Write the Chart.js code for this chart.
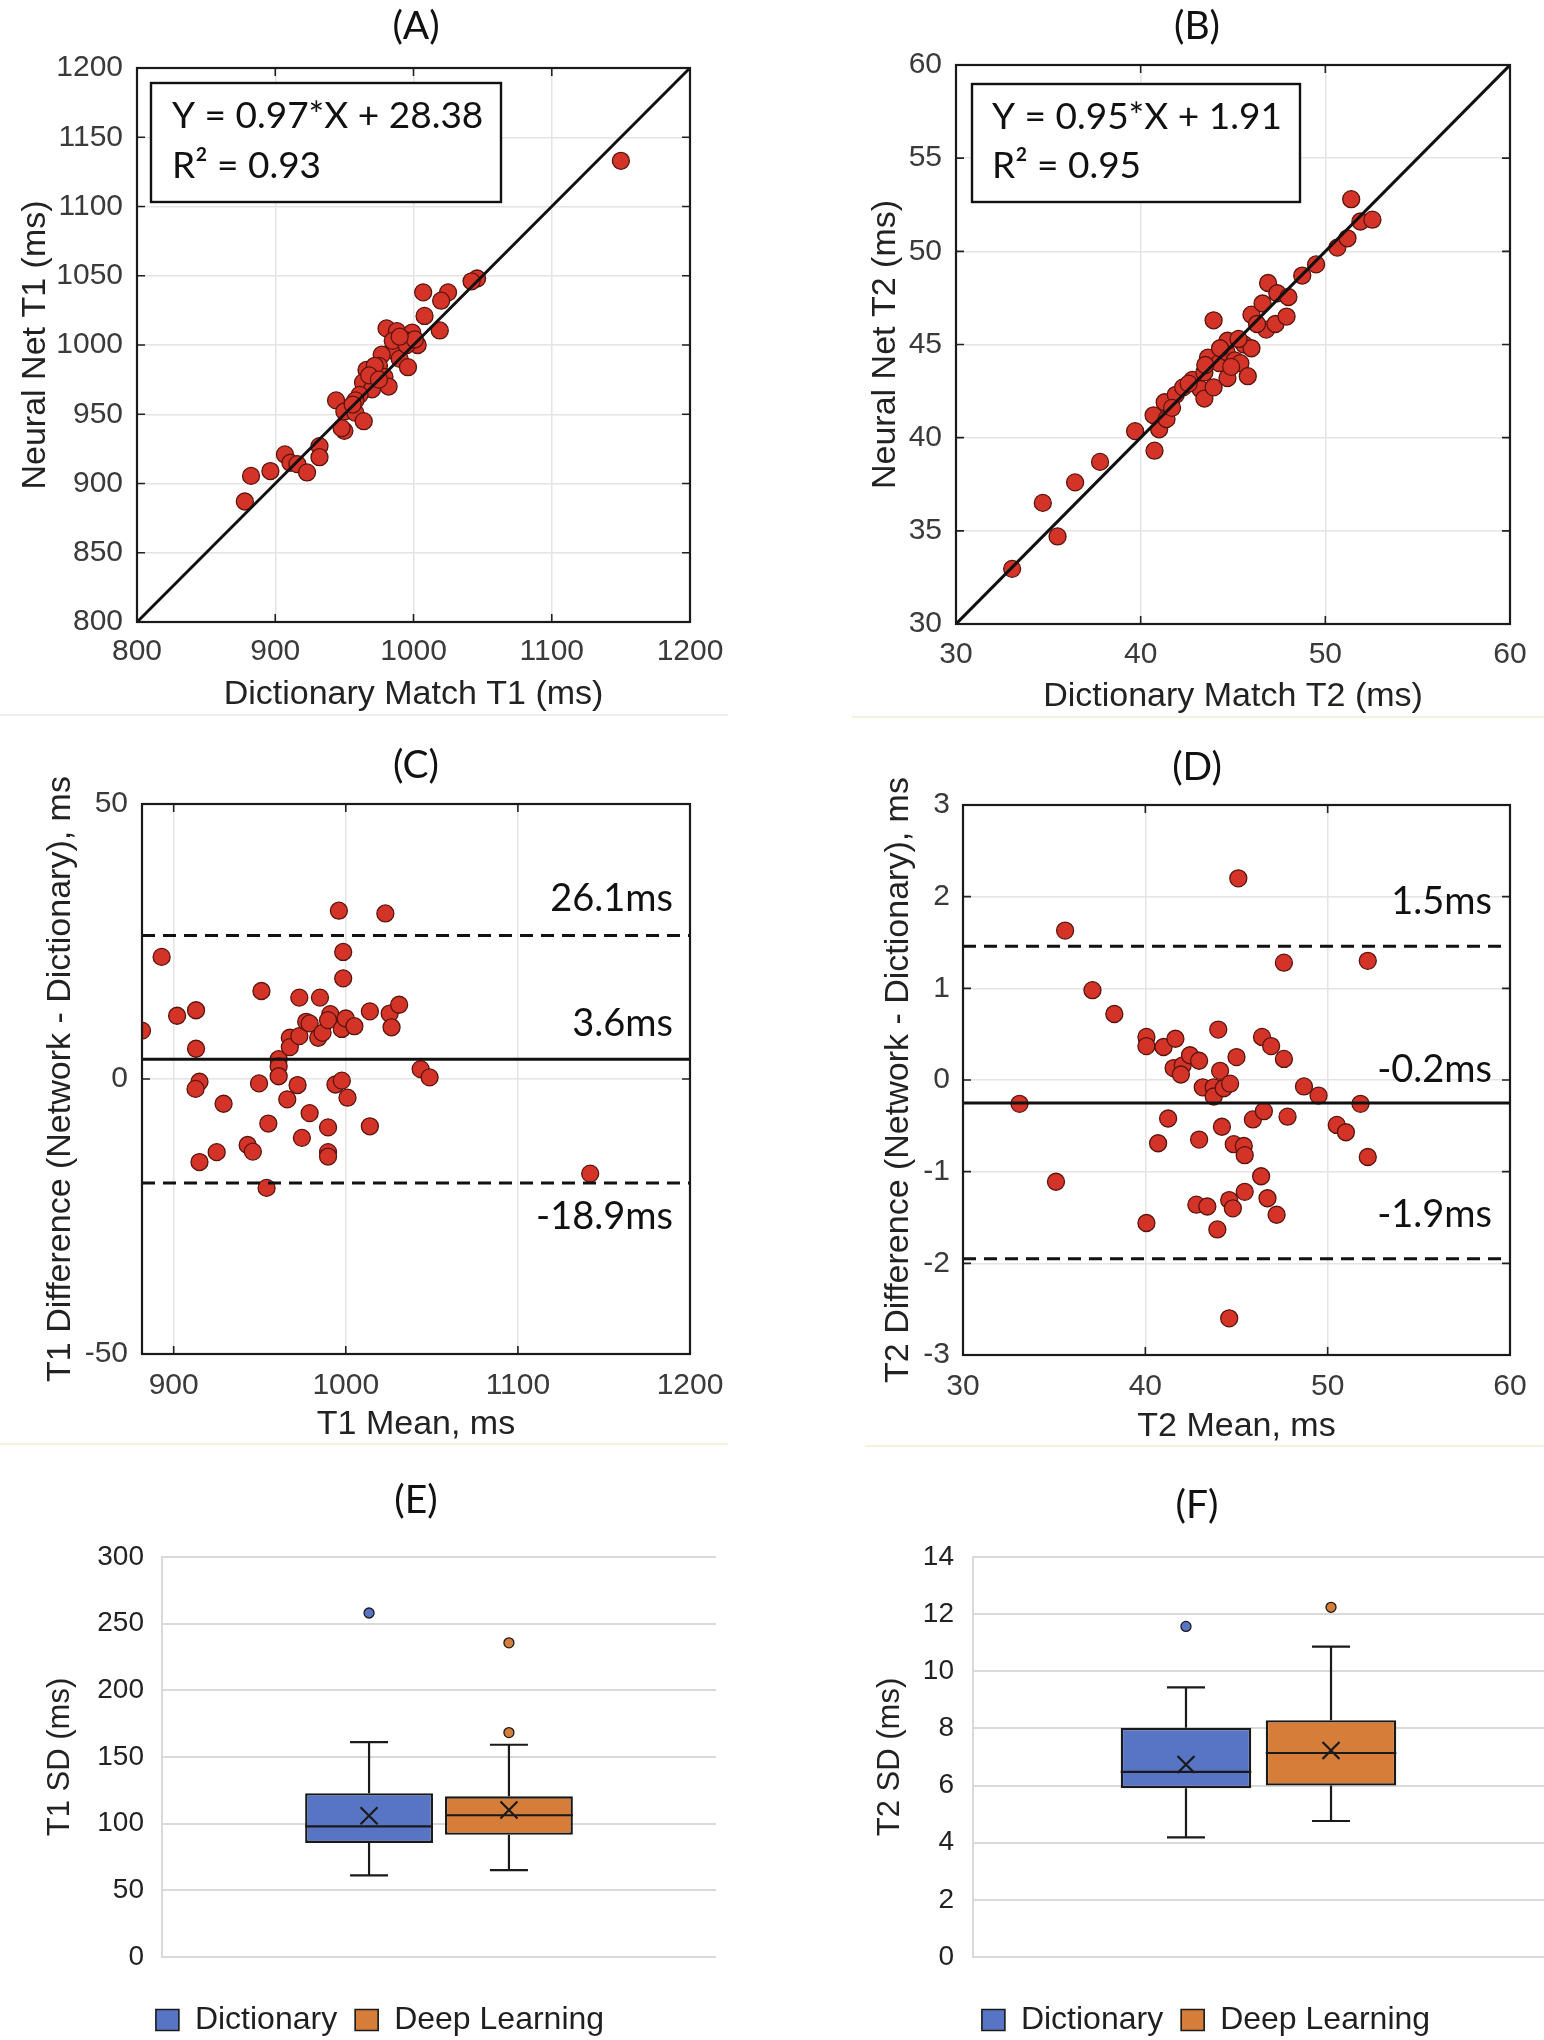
<!DOCTYPE html>
<html>
<head>
<meta charset="utf-8">
<script src="https://cdn.jsdelivr.net/npm/chart.js@4.4.1/dist/chart.umd.min.js"></script>
<style>
html,body{margin:0;padding:0;background:#fff;width:1544px;height:2040px;overflow:hidden;}
#page{position:relative;width:1544px;height:2040px;overflow:hidden;}
.pnl{position:absolute;}
.sep{position:absolute;height:2px;}
</style>
</head>
<body>
<div id="page">
  <div class="pnl" style="left:0;top:0;"><canvas id="A" width="772" height="740"></canvas></div>
  <div class="pnl" style="left:772px;top:0;"><canvas id="B" width="772" height="740"></canvas></div>
  <div class="pnl" style="left:0;top:740px;"><canvas id="C" width="772" height="730"></canvas></div>
  <div class="pnl" style="left:772px;top:740px;"><canvas id="D" width="772" height="730"></canvas></div>
  <div class="pnl" style="left:0;top:1470px;"><canvas id="E" width="760" height="576"></canvas></div>
  <div class="pnl" style="left:868px;top:1470px;"><canvas id="F" width="676" height="576"></canvas></div>
  <div class="sep" style="left:0;top:714px;width:728px;background:#efefef;"></div>
  <div class="sep" style="left:852px;top:716px;width:692px;background:#f5f1dc;"></div>
  <div class="sep" style="left:0;top:1443px;width:728px;background:#f5f1dc;"></div>
  <div class="sep" style="left:865px;top:1445px;width:679px;background:#f5f1dc;"></div>
</div>
<script>
// ---------------- DATA ----------------
// (A) T1: dictionary match vs neural net
const A_dictT1 = [1150,1046,1042,1007,1025,1020,1008,1019,980.5,988,999,994,1003,984.5,977,990,996,975,966,979,982,963.5,970,961,958,944,950,958,964,950,948,932,932,907,911,916,923,896.5,882.5,878,985,995,972,968,1001,990,956,975];
const A_netT1  = [1133,1048,1046,1038,1038,1032,1021,1010.5,1012,1010,1009,1003.5,1000,996,993,990,984,985,982,977,970,973,968,964,960,960,952,951,945,938,940,927,919,921,915,914,908,909,905.5,887,1003,1000,985,978,1004,1006,957,975];
const A_identity = [800, 1200];
const A_xTicks = [800, 900, 1000, 1100, 1200];
const A_yTicks = [800, 850, 900, 950, 1000, 1050, 1100, 1150, 1200];
const A_fitText = ['Y = 0.97*X + 28.38', 'R\u00B2 = 0.93'];

// (B) T2: dictionary match vs neural net
const B_dictT2 = [33.04,35.5,34.7,36.45,37.8,39.7,40.75,40.7,41.0,41.4,41.3,41.9,42.3,42.8,43.25,43.45,43.95,43.65,43.45,44.25,44.7,44.65,44.7,45.1,45.6,46.0,45.4,45.8,43.95,46.0,46.6,46.8,47.3,47.9,46.9,47.4,48.0,48.75,49.5,50.65,51.2,51.4,51.9,52.55,44.3,45.3,42.6,46.3,43.5,41.7,44.9];
const B_netT2  = [32.96,34.7,36.5,37.6,38.7,40.35,39.3,41.2,40.45,41.0,41.9,42.3,42.7,43.1,42.6,42.1,42.7,44.3,43.5,44.0,43.2,44.6,45.2,44.15,45.0,44.8,44.0,43.3,46.3,46.6,47.2,45.8,46.1,46.5,48.3,47.75,47.55,48.7,49.3,50.2,50.7,52.8,51.6,51.7,44.8,45.3,42.9,46.1,43.9,41.6,43.8];
const B_identity = [30, 60];
const B_xTicks = [30, 40, 50, 60];
const B_yTicks = [30, 35, 40, 45, 50, 55, 60];
const B_fitText = ['Y = 0.95*X + 1.91', 'R\u00B2 = 0.95'];

// (C) T1 Bland-Altman
const C_meanT1 = [881.6,893,902,913,913,915,912.7,929,915,925,943,946,949.6,951,955,954,961,961,961,966,967.5,967.5,973,973,972,974.5,977,979,979,985,984,986.5,989.7,989.7,989.7,991,989.7,996,998.5,998.5,997.7,1000,1005,994,997.7,1001,1014,1014,1023,1025.5,1026.6,1031,1043.5,1048.7,1142];
const C_diffT1 = [8.8,22.2,11.5,12.5,5.5,-0.5,-1.8,-4.5,-15.1,-13.3,-12.0,-13.2,-0.8,16.0,-8.1,-19.8,3.6,2.3,0.5,-3.7,7.5,5.8,7.8,14.8,-1.1,-10.7,10.4,10.1,-6.2,14.8,7.5,8.4,-8.8,-13.3,-14.1,11.8,10.7,30.6,23.1,18.3,9.1,11.0,9.6,-1.0,-0.3,-3.4,12.3,-8.6,30.1,11.9,9.4,13.5,1.8,0.3,-17.2];
const C_limits = [26.1, 3.6, -18.9];
const C_limitText = ['26.1ms', '3.6ms', '-18.9ms'];
const C_xRange = [881.6, 1200];
const C_xTicks = [900, 1000, 1100, 1200];
const C_yTicks = [-50, 0, 50];

// (D) T2 Bland-Altman
const D_meanT2 = [33.1,35.1,35.6,37.1,38.3,40.06,40.06,40.06,40.7,41.0,41.25,41.65,41.55,42.05,41.95,42.45,42.95,42.95,42.8,43.4,43.15,43.75,43.75,44.0,44.1,44.2,43.95,44.3,44.65,44.6,44.8,44.6,44.85,45.0,45.1,45.4,45.45,45.45,45.9,46.35,46.4,46.5,46.7,46.9,47.2,47.6,47.6,47.8,48.7,49.5,50.5,51.0,51.8,52.2,52.2];
const D_diffT2 = [-0.26,-1.11,1.63,0.98,0.72,0.47,0.37,-1.56,-0.69,0.36,-0.42,0.45,0.13,0.16,0.06,0.27,0.21,-0.65,-1.36,-1.38,-0.08,-0.08,-0.18,0.55,0.10,-0.51,-1.63,-0.09,-0.04,-1.31,-1.40,-2.60,-0.70,0.25,2.20,-0.72,-0.82,-1.22,-0.43,-1.05,0.47,-0.34,-1.29,0.37,-1.47,1.28,0.23,-0.40,-0.07,-0.17,-0.49,-0.57,-0.26,1.30,-0.84];
const D_limits = [1.46, -0.25, -1.95];
const D_limitText = ['1.5ms', '-0.2ms', '-1.9ms'];
const D_xRange = [30, 60];
const D_xTicks = [30, 40, 50, 60];
const D_yTicks = [-3, -2, -1, 0, 1, 2, 3];

// (E)/(F) box plots of SD
const boxGroups = ['Dictionary', 'Deep Learning'];
const E_min    = [61.2, 65.2];
const E_q1     = [85.5, 91.6];
const E_median = [98.0, 106.3];
const E_q3     = [122.9, 120.5];
const E_max    = [161.1, 159.2];
const E_mean   = [106.0, 110.3];
const E_outliers = [[258], [235.6, 168.3]];
const E_yTicks = [0, 50, 100, 150, 200, 250, 300];

const F_min    = [4.19, 4.76];
const F_q1     = [5.91, 6.00];
const F_median = [6.48, 7.14];
const F_q3     = [8.02, 8.29];
const F_max    = [9.44, 10.86];
const F_mean   = [6.74, 7.23];
const F_outliers = [[11.57], [12.24]];
const F_yTicks = [0, 2, 4, 6, 8, 10, 12, 14];

// ---------------- STYLE ----------------
const MFONT = 'Liberation Sans';
const CFONT = 'Lato';
const PT_FILL = 'rgb(212,52,40)';
const PT_EDGE = 'rgb(90,20,15)';
const BOX_FILL = ['rgb(88,117,197)', 'rgb(215,125,58)'];
Chart.defaults.font.family = MFONT;

const EXTRAS = {
  A: {label: '(A)', lx: 416, ly: 26, frame: true,
      fit: {lines: A_fitText, dx: 14, dy: 15, w: 350, h: 119, tx: 35, ty: [60, 110]}},
  B: {label: '(B)', lx: 425, ly: 26, frame: true,
      fit: {lines: B_fitText, dx: 16, dy: 19, w: 328, h: 118, tx: 36, ty: [64, 113]}},
  C: {label: '(C)', lx: 416, ly: 25, frame: true,
      lim: {values: C_limits, texts: C_limitText, dx: 17, dy: [-24, -23, 46]}},
  D: {label: '(D)', lx: 425, ly: 27, frame: true,
      lim: {values: D_limits, texts: D_limitText, dx: 18, dy: [-32, -21, -32]}},
  E: {label: '(E)', lx: 416, ly: 30,
      box: {min: E_min, q1: E_q1, median: E_median, q3: E_q3, max: E_max, mean: E_mean, outliers: E_outliers}},
  F: {label: '(F)', lx: 329, ly: 35,
      box: {min: F_min, q1: F_q1, median: F_median, q3: F_q3, max: F_max, mean: F_mean, outliers: F_outliers}}
};

const panelExtras = {
  id: 'panelExtras',
  afterDatasetsDraw(chart) {
    const ex = EXTRAS[chart.canvas.id];
    if (!ex) return;
    const c = chart.ctx, a = chart.chartArea, xs = chart.scales.x, ys = chart.scales.y;
    c.save();
    if (ex.frame) {
      c.strokeStyle = '#222';
      c.lineWidth = 1.6;
      const L = 8;
      c.beginPath();
      xs.ticks.forEach(t => {
        const px = xs.getPixelForValue(t.value);
        c.moveTo(px, a.bottom); c.lineTo(px, a.bottom - L);
        c.moveTo(px, a.top); c.lineTo(px, a.top + L);
      });
      ys.ticks.forEach(t => {
        const py = ys.getPixelForValue(t.value);
        c.moveTo(a.left, py); c.lineTo(a.left + L, py);
        c.moveTo(a.right, py); c.lineTo(a.right - L, py);
      });
      c.stroke();
      c.lineWidth = 2.2;
      c.strokeStyle = '#1a1a1a';
      c.strokeRect(a.left, a.top, a.right - a.left, a.bottom - a.top);
    }
    if (ex.fit) {
      const f = ex.fit;
      c.fillStyle = '#fff';
      c.fillRect(a.left + f.dx, a.top + f.dy, f.w, f.h);
      c.strokeStyle = '#111';
      c.lineWidth = 2.4;
      c.strokeRect(a.left + f.dx, a.top + f.dy, f.w, f.h);
      c.fillStyle = '#111';
      c.font = '37px ' + CFONT;
      c.textAlign = 'left';
      c.textBaseline = 'alphabetic';
      f.lines.forEach((t, i) => c.fillText(t, a.left + f.tx, a.top + f.ty[i]));
    }
    if (ex.lim) {
      const l = ex.lim;
      c.fillStyle = '#111';
      c.font = '38px ' + CFONT;
      c.textAlign = 'right';
      c.textBaseline = 'alphabetic';
      l.values.forEach((v, i) => c.fillText(l.texts[i], a.right - l.dx, ys.getPixelForValue(v) + l.dy[i]));
    }
    if (ex.box) {
      const st = ex.box;
      chart.data.datasets.forEach((ds, i) => {
        const el = chart.getDatasetMeta(i).data[0];
        const cx = el.x, hw = el.width / 2, cap = 19;
        const P = v => ys.getPixelForValue(v);
        c.strokeStyle = '#1a1a1a';
        c.lineWidth = 2.2;
        c.beginPath();
        c.moveTo(cx, P(st.q3[i])); c.lineTo(cx, P(st.max[i]));
        c.moveTo(cx - cap, P(st.max[i])); c.lineTo(cx + cap, P(st.max[i]));
        c.moveTo(cx, P(st.q1[i])); c.lineTo(cx, P(st.min[i]));
        c.moveTo(cx - cap, P(st.min[i])); c.lineTo(cx + cap, P(st.min[i]));
        c.moveTo(cx - hw, P(st.median[i])); c.lineTo(cx + hw, P(st.median[i]));
        const my = P(st.mean[i]), s = 8.5;
        c.moveTo(cx - s, my - s); c.lineTo(cx + s, my + s);
        c.moveTo(cx - s, my + s); c.lineTo(cx + s, my - s);
        c.stroke();
        st.outliers[i].forEach(v => {
          c.beginPath();
          c.arc(cx, P(v), 5, 0, Math.PI * 2);
          c.fillStyle = BOX_FILL[i];
          c.fill();
          c.lineWidth = 1.3;
          c.stroke();
        });
      });
    }
    c.restore();
  },
  afterDraw(chart) {
    const ex = EXTRAS[chart.canvas.id];
    if (!ex) return;
    const c = chart.ctx;
    c.save();
    c.font = '39px ' + CFONT;
    c.fillStyle = '#111';
    c.textAlign = 'center';
    c.textBaseline = 'middle';
    c.fillText(ex.label, ex.lx, ex.ly);
    c.restore();
  }
};
Chart.register(panelExtras);

const tickFont = {family: MFONT, size: 30};
const titleFont = {family: MFONT, size: 34, lineHeight: 1};

function pts(xs, ys) { return xs.map((x, i) => ({x: x, y: ys[i]})); }
function hline(v, x0, x1) { return [{x: x0, y: v}, {x: x1, y: v}]; }

function scatterPanel(id, p) {
  const canvas = document.getElementById(id);
  return new Chart(canvas, {
    type: 'scatter',
    data: {datasets: p.datasets},
    options: {
      responsive: false, animation: false, devicePixelRatio: 1,
      layout: {padding: {left: 0, top: p.top, right: p.padR, bottom: 0}},
      plugins: {legend: {display: false}, tooltip: {enabled: false}},
      scales: {
        x: {
          type: 'linear', min: p.xMin, max: p.xMax,
          afterBuildTicks: s => { s.ticks = p.xTicks.map(v => ({value: v})); },
          afterFit: s => { s.height = p.xH; },
          ticks: {callback: v => String(v), font: tickFont, color: '#3a3a3a', padding: p.xTickPad, maxRotation: 0, autoSkip: false},
          grid: {color: '#e4e4e4', lineWidth: 1.5, drawTicks: false},
          border: {display: false},
          title: {display: true, text: p.xTitle, font: titleFont, color: '#222', padding: {top: 0, bottom: p.xTitlePad}}
        },
        y: {
          type: 'linear', min: p.yMin, max: p.yMax,
          afterBuildTicks: s => { s.ticks = p.yTicks.map(v => ({value: v})); },
          afterFit: s => { s.width = p.yW; },
          ticks: {callback: v => String(v), font: tickFont, color: '#3a3a3a', padding: p.yTickPad, autoSkip: false},
          grid: {color: '#e4e4e4', lineWidth: 1.5, drawTicks: false},
          border: {display: false},
          title: {display: true, text: p.yTitle, font: titleFont, color: '#222', padding: {top: p.yTitlePad, bottom: 0}}
        }
      }
    }
  });
}

const pointStyle = {pointRadius: 8.5, pointBackgroundColor: PT_FILL, pointBorderColor: PT_EDGE, pointBorderWidth: 1.3, showLine: false};
const solidLine = {showLine: true, borderColor: '#111', borderWidth: 3, pointRadius: 0, fill: false};
const dashLine = {showLine: true, borderColor: '#111', borderWidth: 3, borderDash: [13, 8], pointRadius: 0, fill: false};

// (A)
scatterPanel('A', {
  datasets: [
    Object.assign({label: 'identity', data: pts(A_identity, A_identity)}, solidLine),
    Object.assign({label: 'T1', data: pts(A_dictT1, A_netT1)}, pointStyle)
  ],
  top: 68, padR: 82, xH: 118, yW: 137,
  xMin: 800, xMax: 1200, yMin: 800, yMax: 1200, xTicks: A_xTicks, yTicks: A_yTicks,
  xTickPad: 12, yTickPad: 14, xTitle: 'Dictionary Match T1 (ms)', yTitle: 'Neural Net T1 (ms)',
  xTitlePad: 28, yTitlePad: 19
});
// (B)
scatterPanel('B', {
  datasets: [
    Object.assign({label: 'identity', data: pts(B_identity, B_identity)}, solidLine),
    Object.assign({label: 'T2', data: pts(B_dictT2, B_netT2)}, pointStyle)
  ],
  top: 65, padR: 34, xH: 116, yW: 184,
  xMin: 30, xMax: 60, yMin: 30, yMax: 60, xTicks: B_xTicks, yTicks: B_yTicks,
  xTickPad: 13, yTickPad: 14, xTitle: 'Dictionary Match T2 (ms)', yTitle: 'Neural Net T2 (ms)',
  xTitlePad: 26, yTitlePad: 97
});
// (C)
scatterPanel('C', {
  datasets: [
    Object.assign({label: 'mean', data: hline(C_limits[1], C_xRange[0], C_xRange[1])}, solidLine),
    Object.assign({label: 'upper', data: hline(C_limits[0], C_xRange[0], C_xRange[1])}, dashLine),
    Object.assign({label: 'lower', data: hline(C_limits[2], C_xRange[0], C_xRange[1])}, dashLine),
    Object.assign({label: 'T1 diff', data: pts(C_meanT1, C_diffT1)}, pointStyle)
  ],
  top: 64, padR: 82, xH: 116, yW: 142,
  xMin: C_xRange[0], xMax: C_xRange[1], yMin: -50, yMax: 50, xTicks: C_xTicks, yTicks: C_yTicks,
  xTickPad: 14, yTickPad: 14, xTitle: 'T1 Mean, ms', yTitle: 'T1 Difference (Network - Dictionary), ms',
  xTitlePad: 28, yTitlePad: 44
});
// (D)
scatterPanel('D', {
  datasets: [
    Object.assign({label: 'mean', data: hline(D_limits[1], D_xRange[0], D_xRange[1])}, solidLine),
    Object.assign({label: 'upper', data: hline(D_limits[0], D_xRange[0], D_xRange[1])}, dashLine),
    Object.assign({label: 'lower', data: hline(D_limits[2], D_xRange[0], D_xRange[1])}, dashLine),
    Object.assign({label: 'T2 diff', data: pts(D_meanT2, D_diffT2)}, pointStyle)
  ],
  top: 65, padR: 34, xH: 115, yW: 191,
  xMin: D_xRange[0], xMax: D_xRange[1], yMin: -3, yMax: 3, xTicks: D_xTicks, yTicks: D_yTicks,
  xTickPad: 14, yTickPad: 13, xTitle: 'T2 Mean, ms', yTitle: 'T2 Difference (Network - Dictionary), ms',
  xTitlePad: 26, yTitlePad: 110
});

function boxPanel(id, p) {
  const canvas = document.getElementById(id);
  return new Chart(canvas, {
    type: 'bar',
    data: {
      labels: [''],
      datasets: boxGroups.map((g, i) => ({
        label: g, data: [[p.q1[i], p.q3[i]]],
        backgroundColor: BOX_FILL[i], borderColor: '#1a1a1a', borderWidth: 2.4, borderSkipped: false,
        categoryPercentage: p.cat, barPercentage: p.bar
      }))
    },
    options: {
      responsive: false, animation: false, devicePixelRatio: 1,
      layout: {padding: {left: p.padL, right: p.padR, top: p.top, bottom: 0}},
      plugins: {
        tooltip: {enabled: false},
        legend: {
          display: true, position: 'bottom',
          labels: {
            boxWidth: 23, boxHeight: 21, padding: 18, color: '#1f1f1f',
            font: {family: MFONT, size: 32},
            generateLabels: ch => Chart.defaults.plugins.legend.labels.generateLabels(ch).map(l => Object.assign(l, {lineWidth: 1.6}))
          }
        }
      },
      scales: {
        x: {
          display: true,
          ticks: {display: false},
          grid: {display: false, drawTicks: false},
          border: {display: false},
          afterFit: s => { s.height = Math.max(0, p.bottomSpace - (s.chart.legend ? s.chart.legend.height : 0)); }
        },
        y: {
          min: 0, max: p.yMax,
          afterBuildTicks: s => { s.ticks = p.yTicks.map(v => ({value: v})); },
          afterFit: s => { s.width = p.yW; },
          ticks: {callback: v => String(v), font: {family: MFONT, size: 28}, color: '#222', padding: p.tickPad, autoSkip: false},
          grid: {color: '#d9d9d9', lineWidth: 2, drawTicks: false},
          border: {display: true, color: '#d9d9d9', width: 2},
          title: {display: true, text: p.yTitle, font: {family: MFONT, size: 31, lineHeight: 1}, color: '#222', padding: {top: p.titlePad, bottom: 0}}
        }
      }
    }
  });
}

boxPanel('E', {
  q1: E_q1, q3: E_q3, yMax: 300, yTicks: E_yTicks, yTitle: 'T1 SD (ms)',
  padL: 44, padR: 44, top: 87, yW: 118, bottomSpace: 89, tickPad: 18, titlePad: 0.5,
  cat: 0.505, bar: 0.914
});
boxPanel('F', {
  q1: F_q1, q3: F_q3, yMax: 14, yTicks: F_yTicks, yTitle: 'T2 SD (ms)',
  padL: 0, padR: 0, top: 87, yW: 105, bottomSpace: 89, tickPad: 19, titlePad: 6.5,
  cat: 0.508, bar: 0.90
});
</script>
</body>
</html>
